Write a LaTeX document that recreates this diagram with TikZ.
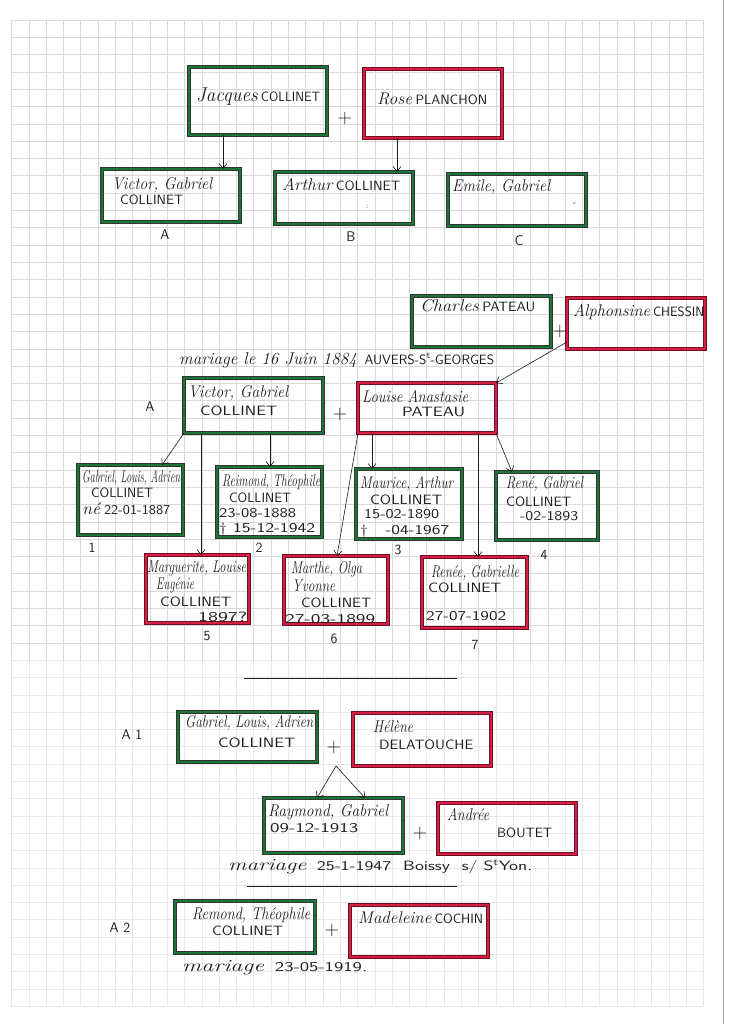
\documentclass[tikz,border=0pt]{standalone}
\usepackage{fontspec}
\usepackage{graphicx}
\usetikzlibrary{arrows.meta,calc,fit}
\definecolor{gcol}{RGB}{24,118,54}
\definecolor{rcol}{RGB}{214,30,70}
\definecolor{ink}{RGB}{28,28,28}
\newcommand\hcur{\itshape\fontsize{17}{19}\selectfont}
\newcommand\hcap{\sffamily\upshape\fontsize{13.5}{15}\selectfont}
\newcommand\hwbox[2]{\resizebox{#1pt}{\height}{#2}}
\begin{document}
\begin{tikzpicture}[x=1pt,y=-1pt]
\tikzset{
  gbox/.style={draw=gcol, line width=2.6pt, preaction={draw=black!80, line width=3.3pt}, inner sep=0pt, outer sep=0pt},
  rbox/.style={draw=rcol, line width=2.6pt, preaction={draw=black!50!rcol, line width=3.3pt}, inner sep=0pt, outer sep=0pt},
  txt/.style={anchor=west, inner sep=0pt, text=ink},
  lbl/.style={inner sep=0pt, text=ink, font=\sffamily\fontsize{14}{14}\selectfont},
  plus/.style={inner sep=0pt, text=ink, font=\sffamily\fontsize{20}{20}\selectfont},
  arr/.style={draw=ink, line width=0.6pt, -{Straight Barb[length=5pt,width=8pt]}},
  rule/.style={draw=ink, line width=0.7pt},
  gridA/.style={draw=black!15, line width=0.4pt},
  gridB/.style={draw=black!9, line width=0.4pt},
}
\useasboundingbox (0,0) rectangle (742,1024);
\fill[white] (0,0) rectangle (742,1024);
% grid paper
\foreach \k in {0,...,40} {
  \draw[gridA] ({11.4+17.3*\k},20) -- ({11.4+17.3*\k},660);
  \draw[gridB] ({11.4+17.3*\k},660) -- ({11.4+17.3*\k},1006);
}
\foreach \k in {1,...,37} {\draw[gridA] (11.4,{2.7+17.3*\k}) -- (703.4,{2.7+17.3*\k});}
\foreach \k in {38,...,58} {\draw[gridB] (11.4,{2.7+17.3*\k}) -- (703.4,{2.7+17.3*\k});}
\draw[black!35, line width=1pt] (723,0) -- (723,1024);

% ---------- generation 1 ----------
\node[gbox, fit={(189,67)(327,135)}] (jacques) {};
\node[rbox, fit={(364,69)(502,138)}] (rose) {};
\node[plus] (p1) at (345,119) {+};
\node[gbox, fit={(102,169)(240,222)}] (victorA) {};
\node[gbox, fit={(275,172)(413,224)}] (arthur) {};
\node[gbox, fit={(448,174)(586,226)}] (emile) {};
\node[txt] (tjac) at (196,97) {\hwbox{124}{{\hcur\fontsize{20}{22}\selectfont Jacques} {\hcap COLLINET}}};
\node[txt] (trose) at (377,99) {\hwbox{110}{{\hcur Rose} {\hcap PLANCHON}}};
\node[txt] (tvicA1) at (112,185) {\hwbox{100}{\hcur Victor, Gabriel}};
\node[txt] (tvicA2) at (120,200) {\hwbox{63}{\hcap COLLINET}};
\node[txt] (tarth) at (282,185) {\hwbox{118}{{\hcur Arthur} {\hcap COLLINET}}};
\node[txt, font=\sffamily\fontsize{7}{7}\selectfont] (tcol) at (366,207) {:};
\node[txt] (temi) at (452,187) {\hwbox{98}{\hcur Emile, Gabriel}};
\node[txt, font=\sffamily\fontsize{9}{9}\selectfont] (tdash) at (573,204) {-};
\node[lbl] (lA) at (165,235) {A};
\node[lbl] (lB) at (351,237) {B};
\node[lbl] (lC) at (519,241) {C};
\draw[arr] ([xshift=-35pt]jacques.south) -- ([xshift=52pt]victorA.north);
\draw[arr] ([xshift=-36pt]rose.south) -- ([xshift=53pt]arthur.north);

% ---------- family A ----------
\node[gbox, fit={(412,296)(551,347)}] (charles) {};
\node[rbox, fit={(567,298)(705,349)}] (alph) {};
\node[plus] (p2) at (560,332) {+};
\node[txt] (tcha) at (420,306) {\hwbox{115}{{\hcur Charles} {\hcap PATEAU}}};
\node[txt] (talph) at (573,312) {\hwbox{131}{{\hcur Alphonsine} {\hcap CHESSIN}}};
\node[txt] (tmar1) at (179,360) {\hwbox{315}{{\hcur mariage le 16 Juin 1884} {\hcap ~AUVERS-S\textsuperscript{t}-GEORGES}}};
\node[lbl] (lA2) at (150,407) {A};
\node[gbox, fit={(184,378)(323,433)}] (victorB) {};
\node[rbox, fit={(358,383)(496,433)}] (louise) {};
\node[plus] (p3) at (340,415) {+};
\node[txt] (tvicB1) at (188,393) {\hwbox{100}{\hcur Victor, Gabriel}};
\node[txt] (tvicB2) at (200,411) {\hwbox{77}{\hcap COLLINET}};
\node[txt] (tlou1) at (362,397) {\hwbox{106}{\hcur Louise Anastasie}};
\node[txt] (tlou2) at (402,412) {\hwbox{63}{\hcap PATEAU}};
\draw[arr] ([yshift=7pt]alph.south west) -- (louise.north east);

% children
\node[gbox, fit={(78,465)(183,535)}] (c1) {};
\node[gbox, fit={(217,467)(322,537)}] (c2) {};
\node[gbox, fit={(356,469)(462,539)}] (c3) {};
\node[gbox, fit={(496,472)(598,540)}] (c4) {};
\node[rbox, fit={(146,555)(249,623)}] (c5) {};
\node[rbox, fit={(284,556)(388,624)}] (c6) {};
\node[rbox, fit={(422,557)(527,628)}] (c7) {};

\node[txt] (t11) at (82,478) {\hwbox{98}{\hcur Gabriel, Louis, Adrien}};
\node[txt] (t12) at (91,493) {\hwbox{62}{\hcap COLLINET}};
\node[txt] (t13) at (82,509) {\hwbox{88}{{\hcur né} {\hcap 22-01-1887}}};

\node[txt] (t21) at (222,482) {\hwbox{98}{\hcur Reimond, Théophile}};
\node[txt] (t22) at (229,498) {\hwbox{62}{\hcap COLLINET}};
\node[txt] (t23) at (219,513) {\hwbox{77}{\hcap 23-08-1888}};
\node[txt] (t24) at (219,529) {\hwbox{96}{\hcap \textdagger\ 15-12-1942}};

\node[txt] (t31) at (360,484) {\hwbox{93}{\hcur Maurice, Arthur}};
\node[txt] (t32) at (370,500) {\hwbox{72}{\hcap COLLINET}};
\node[txt] (t33) at (364,514) {\hwbox{75}{\hcap 15-02-1890}};
\node[txt] (t34) at (360,531) {\hwbox{89}{\hcap \textdagger\quad -04-1967}};

\node[txt] (t41) at (506,484) {\hwbox{77}{\hcur René, Gabriel}};
\node[txt] (t42) at (506,502) {\hwbox{65}{\hcap COLLINET}};
\node[txt] (t43) at (520,516) {\hwbox{58}{\hcap -02-1893}};

\node[txt] (t51) at (147,568) {\hwbox{99}{\hcur Marguerite, Louise}};
\node[txt] (t52) at (156,585) {\hwbox{38}{\hcur Eugénie}};
\node[txt] (t53) at (160,602) {\hwbox{71}{\hcap COLLINET}};
\node[txt] (t54) at (198,617) {\hwbox{49}{\hcap 1897?}};

\node[txt] (t61) at (291,569) {\hwbox{71}{\hcur Marthe, Olga}};
\node[txt] (t62) at (292,586) {\hwbox{43}{\hcur Yvonne}};
\node[txt] (t63) at (301,603) {\hwbox{70}{\hcap COLLINET}};
\node[txt] (t64) at (285,619) {\hwbox{90}{\hcap 27-03-1899}};

\node[txt] (t71) at (431,573) {\hwbox{88}{\hcur Renée, Gabrielle}};
\node[txt] (t72) at (428,588) {\hwbox{73}{\hcap COLLINET}};
\node[txt] (t73) at (426,616) {\hwbox{80}{\hcap 27-07-1902}};

\node[lbl] (n1) at (92,548) {1};
\node[lbl] (n2) at (259,548) {2};
\node[lbl] (n3) at (398,550) {3};
\node[lbl] (n4) at (544,555) {4};
\node[lbl] (n5) at (207,636) {5};
\node[lbl] (n6) at (334,639) {6};
\node[lbl] (n7) at (475,645) {7};

\draw[arr] (victorB.south west) -- ([xshift=31.5pt]c1.north);
\draw[arr] ([xshift=-52.5pt]victorB.south) -- ([xshift=3.5pt]c5.north);
\draw[arr] ([xshift=16.5pt]victorB.south) -- ([xshift=0.5pt]c2.north);
\draw[arr] (louise.south west) -- ([xshift=1pt]c6.north);
\draw[arr] ([xshift=-55pt]louise.south) -- ([xshift=-37pt]c3.north);
\draw[arr] ([xshift=51pt]louise.south) -- ([xshift=3.5pt]c7.north);
\draw[arr] (louise.south east) -- ([xshift=-35pt]c4.north);

\draw[rule] (244,678) -- (457,678);

% ---------- A 1 ----------
\node[lbl] (lA1) at (132,735) {A\,\,1};
\node[gbox, fit={(178,712)(317,762)}] (gabA1) {};
\node[rbox, fit={(353,713)(491,766)}] (helene) {};
\node[plus] (p4) at (334,748) {+};
\node[txt] (tg1) at (185,723) {\hwbox{128}{\hcur Gabriel, Louis, Adrien}};
\node[txt] (tg2) at (218,743) {\hwbox{77}{\hcap COLLINET}};
\node[txt] (th1) at (373,727) {\hwbox{40}{\hcur Hélène}};
\node[txt] (th2) at (379,745) {\hwbox{94}{\hcap DELATOUCHE}};
\node[gbox, fit={(264,798)(403,853)}] (raymond) {};
\node[rbox, fit={(438,803)(576,854)}] (andree) {};
\node[plus] (p5) at (420,833) {+};
\node[txt] (tr1) at (268,812) {\hwbox{120}{\hcur Raymond, Gabriel}};
\node[txt] (tr2) at (270,828) {\hwbox{88}{\hcap 09-12-1913}};
\node[txt] (ta1) at (447,815) {\hwbox{42}{\hcur Andrée}};
\node[txt] (ta2) at (497,833) {\hwbox{55}{\hcap BOUTET}};
\coordinate (apex) at (336,766);
\draw[arr] (apex) -- ([xshift=-16.5pt]raymond.north);
\draw[arr] (apex) -- ([xshift=31.5pt]raymond.north);
\node[txt] (tmar2) at (228,867) {\hwbox{304}{{\hcur mariage} {\hcap ~25-1-1947 ~Boissy ~s/ S\textsuperscript{t}Yon.}}};

\draw[rule] (247,886) -- (457,886);

% ---------- A 2 ----------
\node[lbl] (lA2b) at (120,928) {A\,\,2};
\node[gbox, fit={(175,901)(315,953)}] (remond) {};
\node[rbox, fit={(350,905)(488,957)}] (madeleine) {};
\node[plus] (p6) at (332,930) {+};
\node[txt] (tre1) at (192,915) {\hwbox{118}{\hcur Remond, Théophile}};
\node[txt] (tre2) at (212,931) {\hwbox{71}{\hcap COLLINET}};
\node[txt] (tmad) at (358,918) {\hwbox{125}{{\hcur Madeleine} {\hcap COCHIN}}};
\node[txt] (tmar3) at (182,968) {\hwbox{185}{{\hcur mariage} {\hcap ~23-05-1919.}}};
\end{tikzpicture}
\end{document}
